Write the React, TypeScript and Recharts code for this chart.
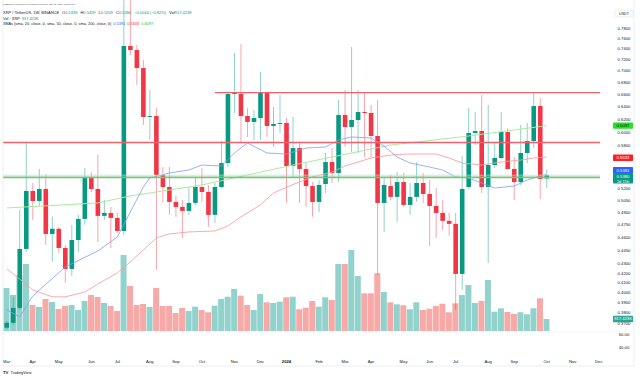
import React from 'react';
import { ComposedChart, Bar, Line, XAxis, YAxis, ReferenceLine, Cell } from 'recharts';

// ---------- data (weekly XRP/USDT, Mar 2023 – Oct 2024) ----------
const opens = [0.3660,0.3706,0.3848,0.4466,0.5170,0.5041,0.5196,0.4638,0.4699,0.4477,
0.4246,0.4568,0.4818,0.5356,0.5196,0.4855,0.4891,0.4830,0.4673,0.7456,
0.7381,0.7052,0.6232,0.6247,0.5383,0.5222,0.5029,0.4966,0.4916,0.5016,
0.5222,0.5157,0.4867,0.5222,0.5548,0.6604,0.6604,0.6247,0.6154,0.6216,
0.6621,0.6092,0.6122,0.6138,0.5506,0.5762,0.5465,0.5235,0.5029,0.5262,
0.5562,0.5410,0.6264,0.6076,0.6185,0.6311,0.6295,0.5940,0.5016,0.5235,
0.5093,0.5288,0.4991,0.5093,0.5275,0.5131,0.4978,0.4891,0.4794,0.4758,
0.4193,0.5222,0.5985,0.6015,0.5222,0.5520,0.5619,0.6000,0.5465,0.5288,
0.5690,0.5865,0.6407,0.5336];
const highs = [0.3725,0.3957,0.4928,0.5836,0.5275,0.5465,0.5396,0.4843,0.4722,0.4511,
0.4746,0.4867,0.5479,0.5424,0.5661,0.5054,0.4966,0.4891,0.9380,0.8500,
0.7474,0.7196,0.6671,0.6375,0.5492,0.5492,0.5106,0.5054,0.5222,0.5356,
0.5479,0.5249,0.5275,0.5865,0.6650,0.7325,0.7493,0.6375,0.6343,0.6982,
0.6630,0.6391,0.6587,0.6216,0.6232,0.5850,0.5548,0.5288,0.5315,0.5690,
0.5762,0.6505,0.6671,0.7437,0.6671,0.6621,0.6423,0.6505,0.5356,0.5383,
0.5424,0.5410,0.5275,0.5562,0.5410,0.5315,0.5209,0.5054,0.4891,0.4891,
0.5647,0.6375,0.6311,0.6587,0.6423,0.5836,0.6311,0.6061,0.5633,0.6107,
0.6138,0.6638,0.6538,0.5459];
const lows = [0.3651,0.3688,0.3829,0.4432,0.4806,0.4978,0.4511,0.4322,0.4421,0.4099,
0.4172,0.4432,0.4746,0.5157,0.4545,0.4806,0.4477,0.4650,0.4626,0.7288,
0.6756,0.6107,0.5880,0.4236,0.5029,0.4867,0.4843,0.4591,0.4867,0.4991,
0.5029,0.4722,0.4770,0.5209,0.5492,0.6295,0.5850,0.5925,0.5880,0.5880,
0.5925,0.5777,0.5985,0.5016,0.5342,0.5016,0.4966,0.4843,0.4903,0.5144,
0.5275,0.5288,0.5777,0.5705,0.5690,0.5633,0.5619,0.4183,0.4662,0.5050,
0.4782,0.4966,0.4867,0.5029,0.5016,0.4499,0.4591,0.4687,0.4615,0.3829,
0.4027,0.5196,0.5806,0.5144,0.4311,0.5479,0.5605,0.5451,0.5054,0.5249,
0.5548,0.5762,0.5067,0.5209];
const closes = [0.3706,0.3848,0.4466,0.5170,0.5041,0.5196,0.4638,0.4699,0.4477,0.4246,
0.4568,0.4818,0.5356,0.5196,0.4855,0.4891,0.4830,0.4673,0.7456,0.7381,
0.7052,0.6232,0.6247,0.5383,0.5222,0.5029,0.4966,0.4916,0.5016,0.5222,
0.5157,0.4867,0.5222,0.5548,0.6604,0.6621,0.6247,0.6154,0.6216,0.6621,
0.6092,0.6122,0.6138,0.5506,0.5762,0.5465,0.5235,0.5029,0.5249,0.5562,
0.5410,0.6264,0.6076,0.6185,0.6311,0.6295,0.5940,0.5016,0.5249,0.5093,
0.5288,0.4991,0.5093,0.5275,0.5131,0.4978,0.4891,0.4794,0.4758,0.4193,
0.5196,0.5985,0.6015,0.5222,0.5520,0.5619,0.6000,0.5465,0.5288,0.5690,
0.5865,0.6407,0.5329,0.5380];
// volume in thousands of XRP
const volumes = [3287,2752,4281,5122,1988,1835,2446,2217,1682,1911,
1988,1605,2294,2752,2599,2141,1911,1529,5810,3440,
1988,2064,1835,3287,1911,1911,1376,1758,1529,1858,
1605,1430,1934,2446,2622,3211,2699,1988,1605,2829,
2194,2141,2240,2576,2622,1659,1781,2294,1858,2576,
2370,5122,5122,6192,4205,2882,2882,4411,2982,2194,
2041,1965,1659,2194,1605,1705,1911,2087,1430,2118,
2752,3517,2141,2294,3899,1475,1735,1453,1300,1430,
1277,1735,2500,917.423];

const ma20Idx = [0,2,4,9,14,17,19,21,22,25,28,30,33,35,37,40,43,46,49,51,53,56,58,60,62,65,67,69,71,73,75,78,80,82,83];
const ma20Val = [0.3829,0.3762,0.3966,0.4267,0.4443,0.4603,0.4903,0.5222,0.5342,0.5410,0.5451,0.5520,0.5506,0.5690,0.5836,0.5690,0.5676,0.5762,0.5777,0.5880,0.5925,0.5910,0.5791,0.5633,0.5548,0.5492,0.5451,0.5356,0.5342,0.5275,0.5209,0.5235,0.5315,0.5369,0.5391];
const ma50Idx = [0,2,4,7,9,12,14,17,19,21,23,25,28,32,34,36,39,41,44,47,50,52,56,59,62,66,68,70,73,76,79,81,83];
const ma50Val = [0.4246,0.4139,0.4027,0.3957,0.3957,0.4006,0.4087,0.4203,0.4322,0.4454,0.4591,0.4638,0.4662,0.4673,0.4732,0.4843,0.4991,0.5144,0.5255,0.5356,0.5424,0.5506,0.5619,0.5661,0.5676,0.5676,0.5619,0.5548,0.5520,0.5562,0.5590,0.5619,0.5633];
const ma200Idx = [0,14,19,25,30,44,59,71,83];
const ma200Val = [0.4953,0.5016,0.5106,0.5182,0.5249,0.5520,0.5806,0.5940,0.6097];

const resistanceTop = 0.6626;
const resistanceTopStart = 32;
const resistanceMid = 0.5843;
const supportLine = 0.5351;

const monthTicks = [0,4,8,13,17,22,26,30,35,39,43,48,52,56,61,65,69,74,78,83,87,91];
const monthLabels = ['Mar','Apr','May','Jun','Jul','Aug','Sep','Oct','Nov','Dec','2024','Feb','Mar','Apr','May','Jun','Jul','Aug','Sep','Oct','Nov','Dec'];
const priceTicks = [0.78,0.76,0.74,0.72,0.70,0.68,0.66,0.64,0.62,0.60,0.58,0.52,0.505,0.49,0.475,0.46,0.445,0.43,0.42,0.41,0.40,0.39,0.38,0.37];
const lowerPaneLabels = ['60.00', '40.00'];

// ---------- styling ----------
const W = 640;
const H = 377;
const FONT = '"Liberation Sans", Arial, sans-serif';
const UP = '#089981';
const DOWN = '#f23645';
const VUP = '#92d2cc';
const VDOWN = '#f7a9a7';
const TEXT = '#131722';
const X_DOMAIN: [number, number] = [-0.57, 91.19];
const P_DOMAIN: [number, number] = [0.363, 0.8374];
const V_DOMAIN: [number, number] = [0, 25305];
const AXIS_X = 624;

const candles = opens.map((o, i) => ({ i, o, h: highs[i], l: lows[i], c: closes[i] }));
const vols = volumes.map((v, i) => ({ i, v, up: closes[i] >= opens[i] }));
const ma20 = ma20Idx.map((i, k) => ({ i, v: ma20Val[k] }));
const ma50 = ma50Idx.map((i, k) => ({ i, v: ma50Val[k] }));
const ma200 = ma200Idx.map((i, k) => ({ i, v: ma200Val[k] }));

const Candle = (props: any) => {
  const { x, y, width, height, payload } = props;
  if (x == null || y == null || !payload) return null;
  const { o, h, l, c } = payload;
  const lh = Math.log(h);
  const ll = Math.log(l);
  const yOf = (v: number) => y + (height * (lh - Math.log(v))) / (lh - ll);
  const cx = x + width / 2;
  const color = c >= o ? UP : DOWN;
  const top = yOf(Math.max(o, c));
  const bot = yOf(Math.min(o, c));
  return (
    <g>
      <line x1={cx} x2={cx} y1={y} y2={y + height} stroke={color} strokeOpacity={0.5} strokeWidth={0.9} />
      <rect x={x} y={top} width={width} height={Math.max(bot - top, 0.9)} fill={color} />
    </g>
  );
};

const PriceTick = (props: any) => {
  const { y, payload } = props;
  return (
    <text x={AXIS_X} y={y} dy={1.5} textAnchor="middle" fontSize={4.2} fill={TEXT} fontFamily={FONT}>
      {Number(payload.value).toFixed(4)}
    </text>
  );
};

const TimeTick = (props: any) => {
  const { x, payload } = props;
  const k = monthTicks.indexOf(payload.value);
  const label = monthLabels[k] ?? '';
  return (
    <text x={x} y={362.5} textAnchor="middle" fontSize={4.2} fill={TEXT} fontFamily={FONT} fontWeight={label === '2024' ? 700 : 400}>
      {label}
    </text>
  );
};

const AxisBox = (props: any) => {
  const { viewBox, text, sub, fill, color, dy = 0 } = props;
  if (!viewBox) return null;
  const x0 = viewBox.x + viewBox.width + 13;
  const cy = viewBox.y + dy;
  const h = sub ? 10.6 : 6.4;
  return (
    <g>
      <rect x={x0} y={cy - 3.2} width={20} height={h} rx={0.8} fill={fill} />
      <text x={x0 + 10} y={cy} dy={1.5} textAnchor="middle" fontSize={4.2} fill={color} fontFamily={FONT}>{text}</text>
      {sub ? (
        <text x={x0 + 10} y={cy + 5.2} dy={1.5} textAnchor="middle" fontSize={4.0} fill={color} fontFamily={FONT}>{sub}</text>
      ) : null}
    </g>
  );
};

const layer: React.CSSProperties = { position: 'absolute', left: 0, top: 0 };

export default function App() {
  return (
    <div style={{ position: 'absolute', left: 0, top: 0, width: W, height: H, background: '#ffffff', overflow: 'hidden' }}>
      {/* volume layer */}
      <div style={layer}>
        <ComposedChart width={W} height={H} data={vols} margin={{ top: 0, right: 40, bottom: 46, left: 3 }}>
          <XAxis type="number" dataKey="i" domain={X_DOMAIN} allowDataOverflow hide />
          <YAxis type="number" domain={V_DOMAIN} allowDataOverflow hide />
          <Bar dataKey="v" barSize={6} isAnimationActive={false}>
            {vols.map((d) => (
              <Cell key={d.i} fill={d.up ? VUP : VDOWN} />
            ))}
          </Bar>
          <ReferenceLine
            y={volumes[volumes.length - 1]}
            stroke="none"
            ifOverflow="visible"
            label={<AxisBox text="917.423K" fill="#26a69a" color="#ffffff" />}
          />
        </ComposedChart>
      </div>

      {/* price layer */}
      <div style={layer}>
        <ComposedChart width={W} height={H} data={candles} margin={{ top: 0, right: 0, bottom: 0, left: 3 }}>
          <XAxis
            type="number"
            dataKey="i"
            domain={X_DOMAIN}
            allowDataOverflow
            ticks={monthTicks}
            interval={0}
            height={46}
            axisLine={false}
            tickLine={false}
            tick={<TimeTick />}
          />
          <YAxis
            yAxisId="p"
            orientation="right"
            type="number"
            scale="log"
            domain={P_DOMAIN}
            allowDataOverflow
            ticks={priceTicks}
            interval={0}
            width={40}
            axisLine={false}
            tickLine={false}
            tick={<PriceTick />}
          />
          <Bar yAxisId="p" dataKey={(d: any) => [d.l, d.h]} barSize={4.6} shape={<Candle />} isAnimationActive={false} />
          <Line yAxisId="p" data={ma200} dataKey="v" type="linear" stroke="#a9eca0" strokeWidth={1} dot={false} activeDot={false} isAnimationActive={false} />
          <Line yAxisId="p" data={ma50} dataKey="v" type="linear" stroke="#f6a2a2" strokeWidth={0.9} dot={false} activeDot={false} isAnimationActive={false} />
          <Line yAxisId="p" data={ma20} dataKey="v" type="linear" stroke="#7f9ef0" strokeWidth={0.8} dot={false} activeDot={false} isAnimationActive={false} />
          <ReferenceLine yAxisId="p" y={closes[closes.length - 1]} stroke="#b7dcd6" strokeWidth={0.7} ifOverflow="visible" />
          <ReferenceLine
            yAxisId="p"
            segment={[{ x: resistanceTopStart, y: resistanceTop }, { x: X_DOMAIN[1], y: resistanceTop }]}
            stroke="#f0616d"
            strokeWidth={1.3}
          />
          <ReferenceLine yAxisId="p" y={resistanceMid} stroke="#f0616d" strokeWidth={1.3} />
          <ReferenceLine yAxisId="p" y={supportLine} stroke="#78c47b" strokeWidth={1.6} />
          <ReferenceLine yAxisId="p" y={ma200Val[ma200Val.length - 1]} stroke="none" ifOverflow="visible"
            label={<AxisBox text="0.6097" fill="#22e222" color={TEXT} />} />
          <ReferenceLine yAxisId="p" y={ma50Val[ma50Val.length - 1]} stroke="none" ifOverflow="visible"
            label={<AxisBox text="0.5633" fill="#ff1f1f" color="#ffffff" dy={0.8} />} />
          <ReferenceLine yAxisId="p" y={ma20Val[ma20Val.length - 1]} stroke="none" ifOverflow="visible"
            label={<AxisBox text="0.5391" fill="#2962ff" color="#ffffff" dy={-4.1} />} />
          <ReferenceLine yAxisId="p" y={closes[closes.length - 1]} stroke="none" ifOverflow="visible"
            label={<AxisBox text="0.5380" sub="2d 15h" fill={UP} color="#ffffff" dy={0.9} />} />
        </ComposedChart>
      </div>

      {/* frame, legend and static text */}
      <svg width={W} height={H} style={{ ...layer, pointerEvents: 'none' }}>
        <line x1={3} x2={3} y1={0} y2={366} stroke="#e0e3eb" strokeWidth={0.6} />
        <line x1={634} x2={634} y1={0} y2={366} stroke="#e0e3eb" strokeWidth={0.6} />
        <line x1={3} x2={634} y1={366} y2={366} stroke="#e0e3eb" strokeWidth={0.6} />
        <line x1={3} x2={634} y1={331.8} y2={331.8} stroke="#eef0f4" strokeWidth={0.6} />

        <text x={3} y={5.2} fontSize={2.4} fill="#50535e" fontFamily={FONT}>
          TonEdlaine published on TradingView.com, Oct 11, 2024 08:28 UTC
        </text>
        <text x={3} y={14} fontSize={4.0} fill={TEXT} fontFamily={FONT}>
          <tspan>XRP / TetherUS, 1W, BINANCE</tspan>
          <tspan dx={3}>O</tspan><tspan fill={UP}>0.5336</tspan>
          <tspan dx={3}>H</tspan><tspan fill={UP}>0.5459</tspan>
          <tspan dx={3}>L</tspan><tspan fill={UP}>0.5209</tspan>
          <tspan dx={3}>C</tspan><tspan fill={UP}>0.5380</tspan>
          <tspan dx={3} fill={UP}>−0.0044 (−0.82%)</tspan>
          <tspan dx={3}>Vol</tspan><tspan fill={UP}>917.423K</tspan>
        </text>
        <text x={3} y={19.6} fontSize={3.9} fill={TEXT} fontFamily={FONT}>
          <tspan>Vol · XRP</tspan><tspan dx={2} fill={UP}>917.423K</tspan>
        </text>
        <text x={3} y={25.3} fontSize={3.9} fill={TEXT} fontFamily={FONT}>
          <tspan>3MAs (sma, 20, close, 0, sma, 50, close, 0, sma, 200, close, 0)</tspan>
          <tspan dx={2} fill="#2962ff">0.5391</tspan>
          <tspan dx={2} fill="#ff1f1f">0.5633</tspan>
          <tspan dx={2} fill="#22c222">0.6097</tspan>
        </text>

        <rect x={615} y={10.3} width={18} height={6.4} rx={0.8} fill="#ffffff" stroke="#d1d4dc" strokeWidth={0.4} />
        <text x={624} y={14.8} textAnchor="middle" fontSize={3.6} fill={TEXT} fontFamily={FONT}>USDT</text>

        <text x={AXIS_X} y={335.5} textAnchor="middle" fontSize={4.2} fill={TEXT} fontFamily={FONT}>{lowerPaneLabels[0]}</text>
        <text x={AXIS_X} y={348.5} textAnchor="middle" fontSize={4.2} fill={TEXT} fontFamily={FONT}>{lowerPaneLabels[1]}</text>

        <text x={3} y={373.5} fontSize={4.2} fontWeight={700} fill={TEXT} fontFamily={FONT}>TV</text>
        <text x={10.5} y={373.5} fontSize={3.8} fill={TEXT} fontFamily={FONT}>TradingView</text>
      </svg>
    </div>
  );
}
